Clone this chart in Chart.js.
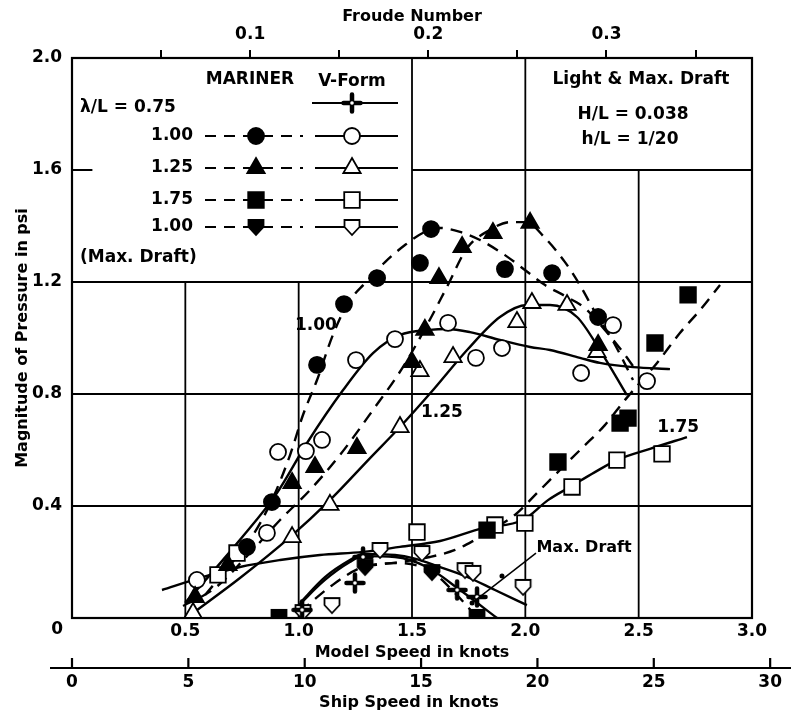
<!DOCTYPE html>
<html>
<head>
<meta charset="utf-8">
<script src="https://cdn.jsdelivr.net/npm/chart.js@4.4.1/dist/chart.umd.min.js"></script>
<style>
  html, body { margin: 0; padding: 0; background: #fff; }
  #contenedor { width: 791px; height: 715px; }
</style>
</head>
<body>
<div id="contenedor"><canvas id="grafico" width="791" height="715"></canvas></div>
<script>
// Datos: [velocidad del modelo (nudos), presion (psi)]
const mariner100Puntos = [[0.772, 0.254], [0.882, 0.414], [1.081, 0.904], [1.2, 1.121], [1.346, 1.214], [1.535, 1.268], [1.584, 1.389], [1.91, 1.246], [2.118, 1.232], [2.321, 1.075]];
const mariner100Curva = [[0.587, 0.082], [0.697, 0.189], [0.785, 0.279], [0.882, 0.421], [0.962, 0.582], [1.019, 0.725], [1.081, 0.85], [1.151, 1.011], [1.218, 1.125], [1.293, 1.196], [1.381, 1.271], [1.469, 1.332], [1.557, 1.379], [1.624, 1.393], [1.712, 1.379], [1.8, 1.35], [1.91, 1.296], [1.998, 1.243], [2.087, 1.189], [2.175, 1.15], [2.263, 1.107], [2.351, 1.029], [2.44, 0.939], [2.493, 0.879]];

const mariner125Puntos = [[0.543, 0.075], [0.688, 0.189], [0.971, 0.482], [1.072, 0.539], [1.257, 0.607], [1.5, 0.914], [1.557, 1.029], [1.619, 1.214], [1.721, 1.325], [1.857, 1.375], [2.021, 1.411], [2.321, 0.975]];
const mariner125Curva = [[0.49, 0.043], [0.631, 0.107], [0.785, 0.232], [0.918, 0.35], [1.05, 0.457], [1.182, 0.582], [1.328, 0.743], [1.46, 0.896], [1.566, 1.046], [1.654, 1.182], [1.743, 1.321], [1.844, 1.386], [1.932, 1.414], [2.003, 1.414], [2.087, 1.357], [2.175, 1.271], [2.241, 1.189], [2.307, 1.093], [2.396, 0.975], [2.475, 0.85]];

const mariner175Puntos = [[1.831, 0.314], [2.144, 0.557], [2.418, 0.696], [2.453, 0.714], [2.572, 0.982], [2.718, 1.154]];
const mariner175Curva = [[1.293, 0.186], [1.447, 0.2], [1.579, 0.218], [1.69, 0.243], [1.778, 0.279], [1.866, 0.321], [1.954, 0.368], [2.056, 0.45], [2.153, 0.529], [2.25, 0.607], [2.351, 0.689], [2.44, 0.779], [2.497, 0.832], [2.581, 0.911], [2.682, 1.018], [2.771, 1.1], [2.859, 1.189]];

const marinerMaxPuntos = [[0.913, 0.004], [1.293, 0.182], [1.588, 0.164], [1.787, 0.004]];
const marinerMaxCurva = [[1.006, 0.021], [1.138, 0.111], [1.284, 0.182], [1.447, 0.196], [1.588, 0.164], [1.69, 0.089], [1.778, 0.011]];

const vform075Puntos = [[1.015, 0.029], [1.248, 0.125], [1.284, 0.218], [1.699, 0.1], [1.787, 0.075]];
const vform075Curva = [[0.997, 0.043], [1.116, 0.136], [1.226, 0.2], [1.284, 0.221], [1.425, 0.218], [1.566, 0.182], [1.712, 0.1], [1.875, 0]];

const vform100Puntos = [[0.551, 0.136], [0.86, 0.304], [0.909, 0.593], [1.032, 0.596], [1.103, 0.636], [1.253, 0.921], [1.425, 0.996], [1.659, 1.054], [1.782, 0.929], [1.897, 0.964], [2.246, 0.875], [2.387, 1.046], [2.537, 0.846]];
const vform100Curva = [[0.499, 0.054], [0.609, 0.154], [0.741, 0.279], [0.904, 0.446], [1.037, 0.625], [1.196, 0.814], [1.328, 0.946], [1.447, 1.011], [1.579, 1.029], [1.654, 1.032], [1.756, 1.021], [1.888, 0.993], [2.021, 0.968], [2.109, 0.957], [2.241, 0.929], [2.329, 0.911], [2.475, 0.896], [2.638, 0.889]];

const vform125Puntos = [[0.534, 0.018], [0.971, 0.289], [1.138, 0.404], [1.447, 0.682], [1.535, 0.882], [1.681, 0.932], [1.963, 1.057], [2.029, 1.125], [2.184, 1.118], [2.316, 0.95]];
const vform125Curva = [[0.534, 0.018], [0.741, 0.143], [0.962, 0.289], [1.138, 0.421], [1.315, 0.571], [1.447, 0.682], [1.593, 0.814], [1.743, 0.957], [1.888, 1.075], [2.007, 1.118], [2.109, 1.118], [2.228, 1.075], [2.329, 0.957], [2.448, 0.796]];

const vform175Puntos = [[0.644, 0.154], [0.728, 0.232], [1.522, 0.307], [1.866, 0.332], [1.998, 0.339], [2.206, 0.468], [2.404, 0.564], [2.603, 0.586]];
const vform175Curva = [[0.397, 0.1], [0.565, 0.143], [0.741, 0.182], [0.918, 0.207], [1.094, 0.225], [1.284, 0.236], [1.447, 0.254], [1.624, 0.275], [1.813, 0.321], [1.99, 0.35], [2.1, 0.421], [2.197, 0.468], [2.307, 0.521], [2.404, 0.564], [2.55, 0.604], [2.713, 0.646]];

const vformMaxPuntos = [[1.019, 0.021], [1.147, 0.046], [1.359, 0.243], [1.544, 0.232], [1.734, 0.171], [1.769, 0.161], [1.99, 0.111]];
const vformMaxCurva = [[1.006, 0.054], [1.116, 0.146], [1.226, 0.207], [1.284, 0.229], [1.425, 0.225], [1.504, 0.214], [1.624, 0.182], [1.734, 0.15], [1.866, 0.1], [2.007, 0.046]];

// Ejes secundarios
const ticksFroude = [0.05, 0.1, 0.15, 0.2, 0.25, 0.3, 0.35];
const etiquetasFroude = [0.1, 0.2, 0.3];
const ticksBarco = [0, 5, 10, 15, 20, 25, 30];
const nudosPorFroude = 7.86;   // velocidad modelo = 7.86 * Fn
const barcoPorModelo = 9.74;   // velocidad buque = 9.74 * velocidad modelo

const FUENTE = '"DejaVu Sans", sans-serif';
const NEGRO = '#000';

const aXY = pares => pares.map(([x, y]) => ({ x, y }));

//Marcadores propios
function escudo(relleno) {
    const c = document.createElement('canvas');
    c.width = 20; c.height = 20;
    const g = c.getContext('2d');
    g.beginPath();
    g.moveTo(2.5, 3);
    g.lineTo(17.5, 3);
    g.lineTo(17.5, 10);
    g.lineTo(10, 18);
    g.lineTo(2.5, 10);
    g.closePath();
    g.fillStyle = relleno ? NEGRO : '#fff';
    g.fill();
    g.lineWidth = 1.8;
    g.strokeStyle = NEGRO;
    g.stroke();
    return c;
}

function cruz() {
    const c = document.createElement('canvas');
    c.width = 22; c.height = 22;
    const g = c.getContext('2d');
    g.strokeStyle = NEGRO;
    g.lineCap = 'round';
    g.lineWidth = 4.5;
    g.beginPath();
    g.moveTo(11, 2.5); g.lineTo(11, 19.5);
    g.moveTo(2.5, 11); g.lineTo(19.5, 11);
    g.stroke();
    g.fillStyle = '#fff';
    g.beginPath();
    g.arc(11, 11, 1.8, 0, Math.PI * 2);
    g.fill();
    return c;
}

const imgEscudoLleno = escudo(true);
const imgEscudoVacio = escudo(false);
const imgCruz = cruz();

const estilos = {
    circuloLleno: { pointStyle: 'circle', radio: 8, fondo: NEGRO },
    circuloVacio: { pointStyle: 'circle', radio: 8, fondo: '#fff' },
    trianguloLleno: { pointStyle: 'triangle', radio: 10, fondo: NEGRO },
    trianguloVacio: { pointStyle: 'triangle', radio: 10, fondo: '#fff' },
    cuadradoLleno: { pointStyle: 'rect', radio: 11, fondo: NEGRO },
    cuadradoVacio: { pointStyle: 'rect', radio: 11, fondo: '#fff' },
    escudoLleno: { pointStyle: imgEscudoLleno, radio: 9, fondo: NEGRO },
    escudoVacio: { pointStyle: imgEscudoVacio, radio: 9, fondo: '#fff' },
    cruz: { pointStyle: imgCruz, radio: 9, fondo: NEGRO }
};

function curva(etiqueta, pares, discontinua) {
    return {
        label: etiqueta,
        data: aXY(pares),
        showLine: true,
        pointRadius: 0,
        borderColor: NEGRO,
        borderWidth: 2.4,
        borderDash: discontinua ? [12, 8] : [],
        cubicInterpolationMode: 'monotone',
        fill: false,
        order: 2
    };
}

function puntos(etiqueta, pares, estilo) {
    const e = estilos[estilo];
    return {
        label: etiqueta,
        data: aXY(pares),
        showLine: false,
        pointStyle: e.pointStyle,
        pointRadius: e.radio,
        pointBackgroundColor: e.fondo,
        pointBorderColor: NEGRO,
        pointBorderWidth: 1.8,
        order: 1
    };
}

// Rejilla parcial como en el original
const tramosH = [[1.2, 0, 3], [0.8, 0, 3], [0.4, 0, 3], [1.6, 1.5, 3], [1.6, 0, 0.09]];
const tramosV = [[0.5, 0, 1.2], [1.0, 0, 1.2], [1.5, 0, 2], [2.0, 0, 2], [2.5, 0, 1.6]];

const rejilla = {
    id: 'rejilla',
    beforeDatasetsDraw(chart) {
        const { ctx, chartArea: a, scales: { x, y } } = chart;
        ctx.save();
        ctx.strokeStyle = NEGRO;
        ctx.lineWidth = 1.8;
        ctx.beginPath();
        tramosH.forEach(([v, x0, x1]) => {
            ctx.moveTo(x.getPixelForValue(x0), y.getPixelForValue(v));
            ctx.lineTo(x.getPixelForValue(x1), y.getPixelForValue(v));
        });
        tramosV.forEach(([v, y0, y1]) => {
            ctx.moveTo(x.getPixelForValue(v), y.getPixelForValue(y0));
            ctx.lineTo(x.getPixelForValue(v), y.getPixelForValue(y1));
        });
        ctx.stroke();
        ctx.lineWidth = 2.2;
        ctx.strokeRect(a.left, a.top, a.right - a.left, a.bottom - a.top);
        ctx.restore();
    }
};

function dibujarMarca(ctx, tipo, px, py) {
    const e = estilos[tipo];
    if (e.pointStyle instanceof HTMLCanvasElement) {
        ctx.drawImage(e.pointStyle, px - e.pointStyle.width / 2, py - e.pointStyle.height / 2);
        return;
    }
    ctx.save();
    ctx.setLineDash([]);
    ctx.fillStyle = e.fondo;
    ctx.strokeStyle = NEGRO;
    ctx.lineWidth = 1.8;
    ctx.beginPath();
    const r = e.radio;
    if (e.pointStyle === 'circle') {
        ctx.arc(px, py, r, 0, Math.PI * 2);
    } else if (e.pointStyle === 'triangle') {
        ctx.moveTo(px, py - r);
        ctx.lineTo(px + r * Math.sin(Math.PI / 3), py + r * 0.5);
        ctx.lineTo(px - r * Math.sin(Math.PI / 3), py + r * 0.5);
        ctx.closePath();
    } else {
        const s = r * Math.SQRT1_2;
        ctx.rect(px - s, py - s, 2 * s, 2 * s);
    }
    ctx.fill();
    ctx.stroke();
    ctx.restore();
}

const filasLeyenda = [
    { texto: '1.00', y: 136, mariner: 'circuloLleno', vform: 'circuloVacio' },
    { texto: '1.25', y: 168, mariner: 'trianguloLleno', vform: 'trianguloVacio' },
    { texto: '1.75', y: 200, mariner: 'cuadradoLleno', vform: 'cuadradoVacio' },
    { texto: '1.00', y: 227, mariner: 'escudoLleno', vform: 'escudoVacio' }
];

const textos = {
    id: 'textos',
    afterDatasetsDraw(chart) {
        const { ctx, scales: { x, y } } = chart;
        ctx.save();
        ctx.fillStyle = NEGRO;
        ctx.strokeStyle = NEGRO;
        ctx.font = 'bold 17px ' + FUENTE;
        ctx.textBaseline = 'middle';

        // Leyenda
        ctx.textAlign = 'center';
        ctx.fillText('MARINER', 250, 80);
        ctx.fillText('V-Form', 352, 82);
        ctx.textAlign = 'left';
        ctx.fillText('\u03bb/L = 0.75', 80, 108);
        ctx.fillText('(Max. Draft)', 80, 258);
        ctx.lineWidth = 2.2;
        ctx.beginPath();
        ctx.moveTo(312, 103); ctx.lineTo(398, 103);
        ctx.stroke();
        dibujarMarca(ctx, 'cruz', 352, 103);
        filasLeyenda.forEach(f => {
            ctx.textAlign = 'right';
            ctx.fillText(f.texto, 193, f.y);
            ctx.setLineDash([11, 8]);
            ctx.beginPath();
            ctx.moveTo(205, f.y); ctx.lineTo(303, f.y);
            ctx.stroke();
            ctx.setLineDash([]);
            ctx.beginPath();
            ctx.moveTo(315, f.y); ctx.lineTo(398, f.y);
            ctx.stroke();
            dibujarMarca(ctx, f.mariner, 256, f.y);
            dibujarMarca(ctx, f.vform, 352, f.y);
        });

        // Caja de condiciones
        ctx.textAlign = 'center';
        ctx.fillText('Light & Max. Draft', 641, 80);
        ctx.fillText('H/L = 0.038', 633, 115);
        ctx.fillText('h/L = 1/20', 630, 140);

        // Rotulos de curvas
        ctx.fillText('1.00', x.getPixelForValue(1.076), y.getPixelForValue(1.043));
        ctx.fillText('1.25', x.getPixelForValue(1.632), y.getPixelForValue(0.732));
        ctx.fillText('1.75', x.getPixelForValue(2.674), y.getPixelForValue(0.679));
        ctx.font = 'bold 16px ' + FUENTE;
        ctx.fillText('Max. Draft', x.getPixelForValue(2.259), y.getPixelForValue(0.25));
        ctx.lineWidth = 1.5;
        ctx.beginPath();
        ctx.moveTo(x.getPixelForValue(2.047), y.getPixelForValue(0.232));
        ctx.lineTo(x.getPixelForValue(1.765), y.getPixelForValue(0.054));
        ctx.stroke();
        [[1.897, 0.15], [1.765, 0.054]].forEach(([vx, vy]) => {
            ctx.beginPath();
            ctx.arc(x.getPixelForValue(vx), y.getPixelForValue(vy), 2.5, 0, Math.PI * 2);
            ctx.fill();
        });

        // "0" del eje vertical, algo por debajo como en el original
        ctx.font = 'bold 17px ' + FUENTE;
        ctx.textAlign = 'right';
        ctx.fillText('0', 63, y.getPixelForValue(0) + 12);
        ctx.restore();
    }
};

const ejeBarco = {
    id: 'ejeBarco',
    afterDraw(chart) {
        const { ctx, scales: { x } } = chart;
        const y0 = chart.chartArea.bottom + 50;
        ctx.save();
        ctx.strokeStyle = NEGRO;
        ctx.fillStyle = NEGRO;
        ctx.lineWidth = 2.2;
        ctx.beginPath();
        ctx.moveTo(50, y0); ctx.lineTo(791, y0);
        ticksBarco.forEach(t => {
            const px = x.getPixelForValue(t / barcoPorModelo);
            ctx.moveTo(px, y0); ctx.lineTo(px, y0 - 10);
        });
        ctx.stroke();
        ctx.font = 'bold 17px ' + FUENTE;
        ctx.textAlign = 'center';
        ctx.textBaseline = 'middle';
        ticksBarco.forEach(t => {
            ctx.fillText(String(t), x.getPixelForValue(t / barcoPorModelo), y0 + 15);
        });
        ctx.font = 'bold 16px ' + FUENTE;
        ctx.fillText('Ship Speed in knots', 409, y0 + 35);
        ctx.restore();
    }
};

const fuenteEje = { family: FUENTE, size: 17, weight: 'bold' };
const fuenteTitulo = { family: FUENTE, size: 16, weight: 'bold' };

new Chart(document.getElementById('grafico'), {
    type: 'scatter',
    data: {
        datasets: [
            puntos('Mariner 1.00', mariner100Puntos, 'circuloLleno'),
            puntos('Mariner 1.25', mariner125Puntos, 'trianguloLleno'),
            puntos('Mariner 1.75', mariner175Puntos, 'cuadradoLleno'),
            puntos('Mariner 1.00 Max', marinerMaxPuntos, 'escudoLleno'),
            puntos('V-Form 0.75', vform075Puntos, 'cruz'),
            puntos('V-Form 1.00', vform100Puntos, 'circuloVacio'),
            puntos('V-Form 1.25', vform125Puntos, 'trianguloVacio'),
            puntos('V-Form 1.75', vform175Puntos, 'cuadradoVacio'),
            puntos('V-Form 1.00 Max', vformMaxPuntos, 'escudoVacio'),
            curva('Mariner 1.00 curva', mariner100Curva, true),
            curva('Mariner 1.25 curva', mariner125Curva, true),
            curva('Mariner 1.75 curva', mariner175Curva, true),
            curva('Mariner Max curva', marinerMaxCurva, true),
            curva('V-Form 0.75 curva', vform075Curva, false),
            curva('V-Form 1.00 curva', vform100Curva, false),
            curva('V-Form 1.25 curva', vform125Curva, false),
            curva('V-Form 1.75 curva', vform175Curva, false),
            curva('V-Form Max curva', vformMaxCurva, false)
        ]
    },
    options: {
        responsive: false,
        animation: false,
        devicePixelRatio: 1,
        layout: { padding: { left: 0, right: 39, top: 0, bottom: 52 } },
        plugins: { legend: { display: false }, tooltip: { enabled: false } },
        scales: {
            x: {
                type: 'linear', position: 'bottom', min: 0, max: 3,
                afterFit(s) { s.height = 45; },
                ticks: {
                    stepSize: 0.5, color: NEGRO, font: fuenteEje, padding: 3,
                    callback: v => v === 0 ? '' : v.toFixed(1)
                },
                grid: { display: false, drawTicks: false },
                border: { display: false },
                title: { display: true, text: 'Model Speed in knots', color: NEGRO, font: fuenteTitulo, padding: { top: 0, bottom: 1 } }
            },
            xf: {
                type: 'linear', position: 'top', min: 0, max: 3 / nudosPorFroude,
                afterFit(s) { s.height = 58; },
                afterBuildTicks(s) { s.ticks = ticksFroude.map(v => ({ value: v })); },
                ticks: {
                    color: NEGRO, font: fuenteEje, padding: 5, maxRotation: 0, autoSkip: false,
                    callback: v => etiquetasFroude.some(e => Math.abs(e - v) < 1e-6) ? v.toFixed(1) : ''
                },
                grid: { display: true, drawOnChartArea: false, drawTicks: true, tickLength: 8, color: NEGRO, lineWidth: 2 },
                border: { display: false },
                title: { display: true, text: 'Froude Number', color: NEGRO, font: fuenteTitulo, padding: { top: 7, bottom: 0 } }
            },
            y: {
                type: 'linear', min: 0, max: 2,
                afterFit(s) { s.width = 72; },
                ticks: {
                    stepSize: 0.4, color: NEGRO, font: fuenteEje, padding: 10,
                    callback: v => v === 0 ? '' : v.toFixed(1)
                },
                grid: { display: false, drawTicks: false },
                border: { display: false },
                title: { display: true, text: 'Magnitude of Pressure in psi', color: NEGRO, font: fuenteTitulo, padding: { top: 13, bottom: 0 } }
            }
        }
    },
    plugins: [rejilla, textos, ejeBarco]
});
</script>
</body>
</html>
